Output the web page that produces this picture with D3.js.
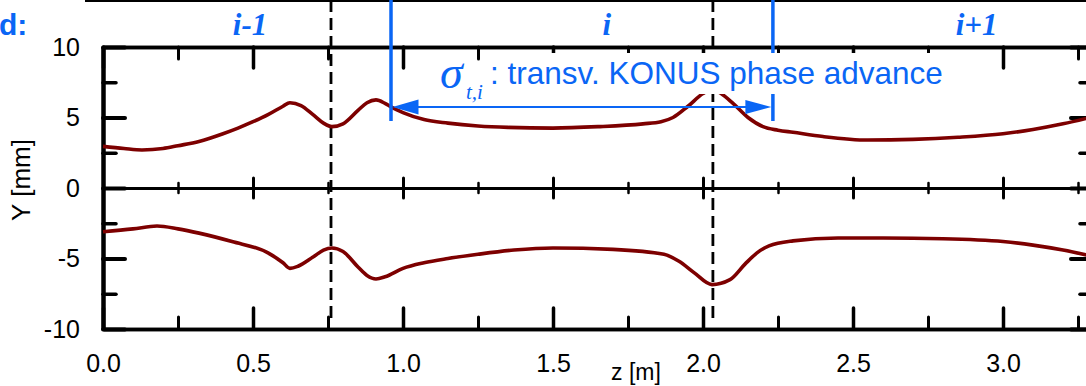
<!DOCTYPE html>
<html>
<head>
<meta charset="utf-8">
<script src="https://cdn.jsdelivr.net/npm/d3@7"></script>
<style>
  html, body { margin: 0; padding: 0; background: #fff; overflow: hidden; }
  svg { display: block; font-family: "Liberation Sans", Arial, sans-serif; }
</style>
</head>
<body>
<svg id="chart" width="1086" height="386"></svg>
<script>
// z positions [m] and beam envelope (upper / lower) [mm]
const zUpper = [0, 0.07, 0.13, 0.2, 0.25, 0.32, 0.4, 0.45, 0.5, 0.55, 0.6, 0.623, 0.66, 0.7, 0.735, 0.763, 0.8, 0.85, 0.88, 0.91, 0.94, 0.96, 1.0, 1.07, 1.15, 1.25, 1.35, 1.5, 1.65, 1.8, 1.86, 1.9, 1.95, 2.0, 2.03, 2.06, 2.1, 2.15, 2.2, 2.25, 2.3, 2.4, 2.55, 2.7, 2.85, 3.0, 3.1, 3.2, 3.3];
const yUpper = [2.95, 2.8, 2.7, 2.8, 3.0, 3.3, 3.85, 4.25, 4.7, 5.2, 5.8, 6.05, 5.85, 5.2, 4.6, 4.35, 4.55, 5.5, 6.05, 6.25, 6.0, 5.75, 5.35, 4.85, 4.6, 4.4, 4.3, 4.25, 4.35, 4.55, 4.7, 5.0, 5.8, 6.7, 7.0, 6.7, 6.0, 5.0, 4.35, 4.1, 3.95, 3.65, 3.4, 3.45, 3.6, 3.85, 4.15, 4.55, 5.05];

const zLower = [0, 0.1, 0.18, 0.25, 0.32, 0.43, 0.55, 0.6, 0.623, 0.65, 0.7, 0.735, 0.763, 0.8, 0.85, 0.88, 0.91, 0.94, 1.0, 1.07, 1.15, 1.25, 1.37, 1.5, 1.7, 1.87, 1.92, 1.97, 2.03, 2.09, 2.14, 2.18, 2.22, 2.3, 2.45, 2.6, 2.8, 3.0, 3.1, 3.2, 3.3];
const yLower = [-3.1, -2.9, -2.7, -2.9, -3.2, -3.8, -4.6, -5.3, -5.7, -5.55, -4.9, -4.4, -4.25, -4.5, -5.6, -6.2, -6.45, -6.3, -5.7, -5.3, -5.0, -4.7, -4.4, -4.25, -4.35, -4.7, -5.2, -6.0, -6.85, -6.5, -5.4, -4.6, -4.1, -3.75, -3.55, -3.55, -3.6, -3.8, -4.05, -4.4, -4.85];

// Ticks
const xMajor = [0, 0.5, 1.0, 1.5, 2.0, 2.5, 3.0];
const xMinor = [0.25, 0.75, 1.25, 1.75, 2.25, 2.75, 3.25];
const yMajor = [-10, -5, 0, 5, 10];
const yMinor = [-7.5, -2.5, 2.5, 7.5];

// Period markers
const dashedZ = [0.76, 2.033];          // dashed separators
const cellZ = [0.96, 2.233];            // blue cell borders / phase advance arrow
const cellLabels = ["i-1", "i", "i+1"];
const cellLabelZ = [0.49, 1.679, 2.912];

const BLUE = "#0a66f5";
const RED = "#7d0000";
const SANS = "Liberation Sans, Arial, sans-serif";
const SERIF = "Liberation Serif, 'Times New Roman', serif";

const svg = d3.select("#chart");
const x = d3.scaleLinear().domain([0, 3.3]).range([103, 1093]);
const y = d3.scaleLinear().domain([-10, 10]).range([329, 47]);

// top border line of frame
svg.append("line").attr("x1", 85).attr("x2", 1086).attr("y1", 1).attr("y2", 1)
  .attr("stroke", "#000").attr("stroke-width", 2);

function styleAxis(g, w, tw) {
  g.select(".domain").attr("stroke", "#000").attr("stroke-width", w);
  g.selectAll(".tick line").attr("stroke", "#000").attr("stroke-width", tw).attr("stroke-linecap", "round");
}
function styleLabels(g) {
  g.selectAll("text").attr("font-size", 25).attr("fill", "#000").attr("font-family", SANS);
}

// bottom axis (ticks inward) + labels
svg.append("g").attr("transform", `translate(0,${y(-10)})`)
  .call(d3.axisBottom(x).tickValues(xMinor).tickSizeInner(-12).tickSizeOuter(0).tickFormat(""))
  .call(g => styleAxis(g, 3.5, 3));
svg.append("g").attr("transform", `translate(0,${y(-10)})`)
  .call(d3.axisBottom(x).tickValues(xMajor).tickSizeInner(-21).tickSizeOuter(0).tickPadding(25).tickFormat(d3.format(".1f")))
  .call(g => styleAxis(g, 3.5, 3.5))
  .call(styleLabels);

// top axis (ticks inward)
svg.append("g").attr("transform", `translate(0,${y(10)})`)
  .call(d3.axisBottom(x).tickValues(xMinor).tickSizeInner(12).tickSizeOuter(0).tickFormat(""))
  .call(g => styleAxis(g, 3.5, 3));
svg.append("g").attr("transform", `translate(0,${y(10)})`)
  .call(d3.axisBottom(x).tickValues(xMajor).tickSizeInner(21).tickSizeOuter(0).tickFormat(""))
  .call(g => styleAxis(g, 3.5, 3.5));

// zero line with ticks on both sides
[d3.axisBottom, d3.axisTop].forEach(ax => {
  svg.append("g").attr("transform", `translate(0,${y(0)})`)
    .call(ax(x).tickValues(xMinor).tickSizeInner(5).tickSizeOuter(0).tickFormat(""))
    .call(g => styleAxis(g, 2.5, 2.5));
  svg.append("g").attr("transform", `translate(0,${y(0)})`)
    .call(ax(x).tickValues(xMajor).tickSizeInner(10).tickSizeOuter(0).tickFormat(""))
    .call(g => styleAxis(g, 2.5, 3));
});

// left axis
svg.append("g").attr("transform", `translate(${x(0)},0)`)
  .call(d3.axisLeft(y).tickValues(yMinor).tickSizeInner(-13).tickSizeOuter(0).tickFormat(""))
  .call(g => styleAxis(g, 4, 3.5));
svg.append("g").attr("transform", `translate(${x(0)},0)`)
  .call(d3.axisLeft(y).tickValues(yMajor).tickSizeInner(-22).tickSizeOuter(0).tickPadding(23)
    .tickFormat(d => String(d)))
  .call(g => styleAxis(g, 4, 4))
  .call(styleLabels);

// right axis (mostly outside the picture)
svg.append("g").attr("transform", `translate(${x(3.3)},0)`)
  .call(d3.axisRight(y).tickValues(yMinor).tickSizeInner(-13).tickSizeOuter(0).tickFormat(""))
  .call(g => styleAxis(g, 4, 3.5));
svg.append("g").attr("transform", `translate(${x(3.3)},0)`)
  .call(d3.axisRight(y).tickValues(yMajor).tickSizeInner(-22).tickSizeOuter(0).tickFormat(""))
  .call(g => styleAxis(g, 4, 4));

// axis titles
svg.append("text").attr("x", 636).attr("y", 380).attr("text-anchor", "middle")
  .attr("font-size", 23).text("z [m]");
svg.append("text").attr("transform", "translate(30,180) rotate(-90)").attr("text-anchor", "middle")
  .attr("font-size", 26).text("Y [mm]");

// dashed period separators
svg.append("g").selectAll("line").data(dashedZ).join("line")
  .attr("x1", d => x(d)).attr("x2", d => x(d)).attr("y1", 0).attr("y2", 323)
  .attr("stroke", "#000").attr("stroke-width", 2.8).attr("stroke-dasharray", "12,6");

// envelope curves
const line = d3.line().curve(d3.curveMonotoneX).x(d => x(d[0])).y(d => y(d[1]));
svg.append("path").datum(zUpper.map((z, i) => [z, yUpper[i]]))
  .attr("d", line).attr("fill", "none").attr("stroke", RED).attr("stroke-width", 3.6);
svg.append("path").datum(zLower.map((z, i) => [z, yLower[i]]))
  .attr("d", line).attr("fill", "none").attr("stroke", RED).attr("stroke-width", 3.6);

// blue cell borders
svg.append("g").selectAll("line").data(cellZ).join("line")
  .attr("x1", d => x(d)).attr("x2", d => x(d)).attr("y1", 0).attr("y2", 121)
  .attr("stroke", BLUE).attr("stroke-width", 3.5);

// phase advance arrow
const arrowY = 107;
const xa = x(cellZ[0]) + 1.5, xb = x(cellZ[1]) - 1.5;
svg.append("line").attr("x1", xa + 10).attr("x2", xb - 10).attr("y1", arrowY).attr("y2", arrowY)
  .attr("stroke", BLUE).attr("stroke-width", 2);
svg.append("path").attr("fill", BLUE)
  .attr("d", `M${xa},${arrowY} L${xa + 26},${arrowY - 7.5} L${xa + 26},${arrowY + 7.5} Z`);
svg.append("path").attr("fill", BLUE)
  .attr("d", `M${xb},${arrowY} L${xb - 26},${arrowY - 7} L${xb - 26},${arrowY + 7} Z`);

// cell labels
svg.append("g").selectAll("text").data(cellLabels).join("text")
  .attr("x", (d, i) => x(cellLabelZ[i])).attr("y", 35).attr("text-anchor", "middle")
  .attr("font-family", SERIF)
  .attr("font-style", "italic").attr("font-weight", "bold").attr("font-size", 31)
  .attr("fill", BLUE).text(d => d);

// panel letter
svg.append("text").attr("x", -1).attr("y", 35).attr("font-size", 30).attr("font-weight", "bold")
  .attr("fill", BLUE).text("d:");

// annotation text with white background
const ann = svg.append("g");
const bg = ann.append("rect").attr("fill", "#fff");
const annText = ann.append("text").attr("x", 490).attr("y", 84).attr("font-size", 31.5)
  .attr("fill", BLUE).text(": transv. KONUS phase advance");
const bb = annText.node().getBBox();
bg.attr("x", bb.x - 6).attr("y", 53).attr("width", bb.width + 13).attr("height", 41);

svg.append("text").attr("x", 440).attr("y", 88)
  .attr("font-family", SERIF)
  .attr("font-style", "italic").attr("font-size", 46).attr("fill", BLUE).text("σ");
svg.append("text").attr("x", 466).attr("y", 99)
  .attr("font-family", SERIF)
  .attr("font-style", "italic").attr("font-size", 21).attr("fill", BLUE).text("t,i");
</script>
</body>
</html>
